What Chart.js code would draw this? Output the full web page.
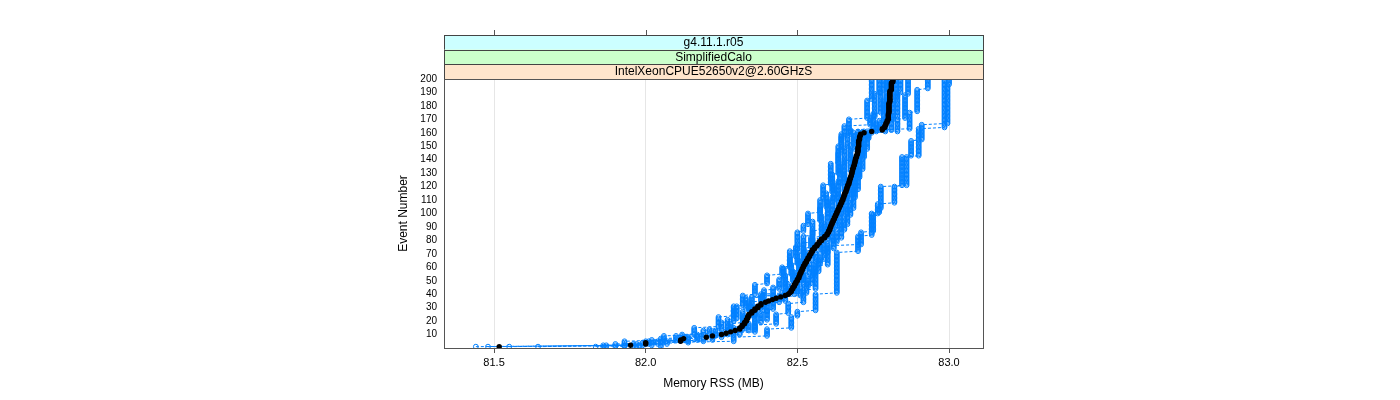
<!DOCTYPE html>
<html>
<head>
<meta charset="utf-8">
<script src="https://cdn.jsdelivr.net/npm/chart.js@4.4.1/dist/chart.umd.min.js"></script>
<style>
  html, body { margin: 0; padding: 0; background: #fff; }
  #wrap { width: 1400px; height: 400px; }
</style>
</head>
<body>
<div id="wrap"><canvas id="rssChart" width="1400" height="400"></canvas></div>
<script>
const xTicks = [81.5, 82.0, 82.5, 83.0];
const yTicks = [10, 20, 30, 40, 50, 60, 70, 80, 90, 100, 110, 120, 130, 140, 150, 160, 170, 180, 190, 200];
const stripLabels = ['g4.11.1.r05', 'SimplifiedCalo', 'IntelXeonCPUE52650v2@2.60GHzS'];
const lastEvent = 200;

// each run: [first event, memory MB], value holds until the next step
const medianSteps = [[1,81.517],[2,81.95],[3,82.00],[5,82.115],[7,82.125],[8,82.20],[9,82.22],[10,82.25],[11,82.265],[12,82.28],[13,82.295],[14,82.31],[16,82.318],[18,82.326],[20,82.332],[22,82.336],[24,82.34],[26,82.35],[28,82.36],[30,82.37],[32,82.38],[34,82.395],[35,82.405],[36,82.418],[37,82.43],[38,82.445],[39,82.46],[40,82.47],[41,82.475],[42,82.48],[44,82.485],[46,82.49],[48,82.495],[50,82.50],[52,82.505],[54,82.508],[56,82.512],[58,82.516],[60,82.52],[62,82.525],[64,82.53],[66,82.535],[68,82.54],[70,82.545],[72,82.55],[74,82.557],[76,82.565],[78,82.572],[80,82.58],[82,82.59],[84,82.598],[86,82.603],[88,82.607],[90,82.61],[92,82.614],[94,82.618],[96,82.622],[98,82.626],[100,82.63],[102,82.634],[104,82.638],[106,82.642],[108,82.646],[110,82.65],[112,82.653],[114,82.656],[116,82.66],[118,82.663],[120,82.666],[122,82.67],[124,82.672],[126,82.675],[128,82.678],[130,82.68],[132,82.682],[134,82.685],[136,82.688],[138,82.69],[140,82.692],[142,82.695],[144,82.698],[146,82.70],[150,82.702],[155,82.705],[158,82.708],[160,82.72],[161,82.745],[162,82.78],[164,82.788],[166,82.792],[168,82.796],[170,82.80],[175,82.802],[183,82.805],[192,82.81],[198,82.815]];

const run1Steps = [[1,81.44],[2,81.93],[6,82.06],[10,82.19],[14,82.25],[20,82.29],[30,82.33],[38,82.39],[44,82.44],[52,82.455],[60,82.475],[68,82.495],[76,82.52],[84,82.55],[95,82.575],[105,82.595],[116,82.615],[130,82.635],[146,82.645],[158,82.655],[166,82.74],[172,82.755],[190,82.77]];
const run2Steps = [[1,81.48],[2,81.9],[4,82.02],[7,82.12],[11,82.21],[15,82.27],[22,82.30],[32,82.35],[39,82.42],[46,82.46],[55,82.48],[63,82.50],[71,82.52],[79,82.55],[88,82.58],[99,82.60],[110,82.62],[122,82.64],[136,82.655],[150,82.665],[159,82.675],[163,82.75],[175,82.775],[192,82.785]];
const run3Steps = [[1,81.55],[2,81.96],[4,82.05],[8,82.17],[11,82.23],[14,82.28],[19,82.32],[28,82.34],[35,82.38],[41,82.46],[50,82.485],[58,82.505],[66,82.52],[75,82.545],[83,82.58],[92,82.60],[102,82.615],[113,82.635],[125,82.655],[140,82.675],[152,82.685],[161,82.76],[168,82.785],[185,82.795]];
const run4Steps = [[1,81.645],[2,81.98],[3,82.01],[6,82.13],[9,82.22],[12,82.27],[16,82.32],[24,82.345],[33,82.385],[40,82.47],[48,82.49],[57,82.51],[65,82.525],[73,82.55],[82,82.59],[93,82.615],[104,82.635],[117,82.655],[132,82.675],[148,82.69],[159,82.70],[162,82.77],[170,82.795],[188,82.805]];
const run5Steps = [[1,81.835],[2,81.99],[5,82.14],[9,82.23],[12,82.29],[16,82.33],[24,82.36],[31,82.39],[37,82.45],[42,82.50],[50,82.515],[58,82.53],[66,82.55],[74,82.575],[81,82.60],[90,82.625],[100,82.645],[112,82.665],[126,82.685],[142,82.70],[157,82.71],[161,82.79],[170,82.815],[186,82.825]];
const run6Steps = [[1,81.87],[3,82.04],[6,82.17],[10,82.27],[14,82.32],[20,82.36],[28,82.385],[35,82.42],[40,82.49],[47,82.52],[56,82.54],[64,82.56],[72,82.585],[80,82.615],[90,82.64],[101,82.66],[114,82.68],[128,82.695],[143,82.71],[158,82.72],[162,82.81],[172,82.83],[190,82.84]];
const run7Steps = [[1,81.9],[2,82.02],[5,82.19],[9,82.29],[13,82.34],[19,82.38],[27,82.40],[34,82.44],[39,82.51],[46,82.535],[54,82.555],[63,82.575],[71,82.60],[79,82.63],[88,82.655],[99,82.675],[112,82.69],[127,82.705],[142,82.72],[156,82.735],[161,82.83],[171,82.855],[189,82.865]];
const run8Steps = [[1,81.93],[3,82.07],[6,82.22],[10,82.31],[14,82.36],[21,82.40],[29,82.42],[35,82.46],[41,82.53],[48,82.55],[57,82.57],[66,82.59],[74,82.62],[82,82.645],[92,82.665],[104,82.685],[118,82.70],[133,82.715],[148,82.73],[160,82.745],[163,82.87],[176,82.895],[193,82.93]];
const leftRunSteps = [[1,81.86],[3,82.0],[6,82.1],[10,82.16],[16,82.24],[24,82.29],[32,82.32],[40,82.36],[48,82.40],[55,82.45],[61,82.475],[73,82.50],[87,82.52],[92,82.535],[101,82.575],[111,82.585],[122,82.61],[138,82.635],[151,82.645],[160,82.67],[171,82.73],[185,82.745]];
const rightRunSteps = [[1,82.05],[5,82.29],[9,82.40],[15,82.48],[24,82.50],[28,82.56],[41,82.63],[72,82.70],[84,82.745],[101,82.77],[104,82.775],[121,82.86],[143,82.90],[164,82.985]];
const rightRun2Steps = [[1,81.97],[4,82.14],[8,82.25],[12,82.36],[18,82.43],[26,82.47],[34,82.52],[44,82.56],[62,82.60],[77,82.71],[87,82.75],[100,82.765],[108,82.82],[121,82.845],[143,82.875],[155,82.91],[167,82.995],[196,83.0]];

const blueRuns = [run1Steps, run2Steps, run3Steps, run4Steps, run5Steps, run6Steps, run7Steps, run8Steps, leftRunSteps, rightRunSteps, rightRun2Steps];

function expandSteps(steps) {
  let pts = [];
  let k = 0;
  for (let ev = 1; ev <= lastEvent; ev++) {
    while (k + 1 < steps.length && steps[k + 1][0] <= ev) k++;
    pts.push({ x: steps[k][1], y: ev });
  }
  return pts;
}

const blue = '#0080ff';
const font = 'Liberation Sans, Arial, Helvetica, sans-serif';

let datasets = [{
  label: 'median',
  data: expandSteps(medianSteps),
  showLine: false,
  backgroundColor: '#000',
  borderColor: '#000',
  pointRadius: 2.7,
  pointBorderWidth: 0,
  order: 0
}];
blueRuns.forEach((r, i) => {
  datasets.push({
    label: 'run' + (i + 1),
    data: expandSteps(r),
    showLine: true,
    borderColor: blue,
    borderWidth: 1,
    borderDash: [3, 2],
    backgroundColor: 'rgba(0,0,0,0)',
    pointBorderColor: blue,
    pointBorderWidth: 1,
    pointRadius: 2.4,
    order: 1
  });
});

// strips + panel box + top ticks (lattice look)
const latticeFrame = {
  id: 'latticeFrame',
  afterDraw(chart) {
    const c = chart.ctx;
    const a = chart.chartArea;
    const xs = chart.scales.x;
    const stripTop = 35;
    const h = (a.top - stripTop) / 3;
    const cols = ['#ccffff', '#ccffcc', '#ffe5cc'];
    c.save();
    for (let i = 0; i < 3; i++) {
      const y = stripTop + i * h;
      c.fillStyle = cols[i];
      c.fillRect(a.left, y, a.right - a.left, h);
      c.strokeStyle = '#444';
      c.lineWidth = 1;
      c.strokeRect(a.left + 0.5, Math.round(y) + 0.5, a.right - a.left, Math.round(h));
      c.fillStyle = '#000';
      c.font = '12px ' + font;
      c.textAlign = 'center';
      c.textBaseline = 'middle';
      c.fillText(stripLabels[i], (a.left + a.right) / 2, y + h / 2 + 0.5);
    }
    c.strokeStyle = '#555';
    c.strokeRect(a.left + 0.5, a.top + 0.5, a.right - a.left, a.bottom - a.top);
    c.beginPath();
    xTicks.forEach(v => {
      const px = Math.round(xs.getPixelForValue(v)) + 0.5;
      c.moveTo(px, stripTop - 5);
      c.lineTo(px, stripTop);
    });
    c.stroke();
    c.restore();
  }
};

new Chart(document.getElementById('rssChart'), {
  type: 'scatter',
  data: { datasets: datasets },
  options: {
    responsive: false,
    animation: false,
    devicePixelRatio: 1,
    layout: { padding: { left: 390, right: 417, top: 79, bottom: 0 } },
    plugins: { legend: { display: false }, tooltip: { enabled: false } },
    scales: {
      x: {
        type: 'linear',
        min: 81.335,
        max: 83.112,
        afterBuildTicks: s => { s.ticks = xTicks.map(v => ({ value: v })); },
        afterFit: s => { s.height = 52; },
        ticks: {
          callback: v => Number(v).toFixed(1),
          font: { family: font, size: 11 },
          color: '#000',
          padding: 3,
          maxRotation: 0,
          autoSkip: false
        },
        grid: { color: '#e6e6e6', tickColor: '#555', tickLength: 5 },
        border: { display: false },
        title: {
          display: true,
          text: 'Memory RSS (MB)',
          font: { family: font, size: 12 },
          color: '#000',
          padding: { top: 2, bottom: 9 }
        }
      },
      y: {
        min: 0,
        max: 200,
        afterBuildTicks: s => { s.ticks = yTicks.map(v => ({ value: v })); },
        afterFit: s => { s.width = 54; },
        ticks: {
          font: { family: font, size: 10 },
          color: '#000',
          padding: 7,
          autoSkip: false
        },
        grid: { display: false, drawTicks: false },
        border: { display: false },
        title: {
          display: true,
          text: 'Event Number',
          font: { family: font, size: 12 },
          color: '#000',
          padding: { top: 6, bottom: 0 }
        }
      }
    }
  },
  plugins: [latticeFrame]
});
</script>
</body>
</html>
